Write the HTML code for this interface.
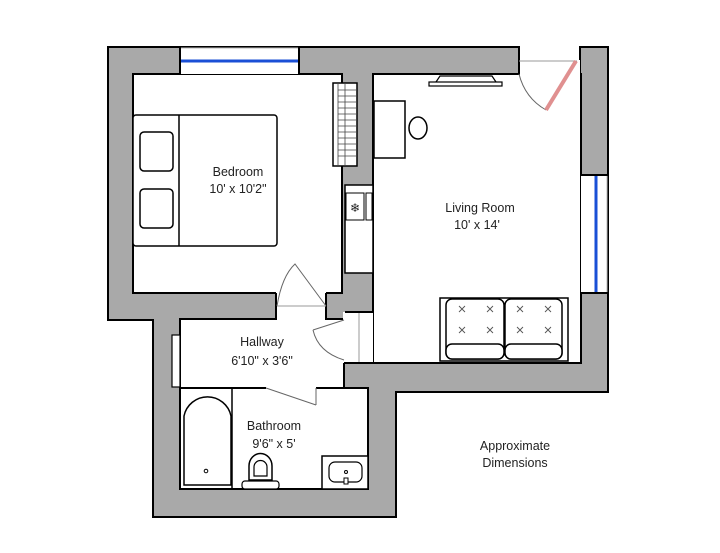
<!DOCTYPE html>
<html><head><style>body{margin:0;background:#fff}svg{display:block}text{font-family:"Liberation Sans",sans-serif;font-size:12.5px;fill:#222;text-anchor:middle}</style></head><body>
<svg width="720" height="553" viewBox="0 0 720 553">
<g stroke="#000" stroke-width="2">
<polygon points="108,47 519,47 519,74 580,74 580,47 608,47 608,392 396,392 396,517 153,517 153,320 108,320" fill="#a9a9a9"/>
<rect x="133" y="74" width="209" height="219" fill="#fff"/>
<rect x="373" y="74" width="208" height="289" fill="#fff"/>
<rect x="180" y="319" width="164" height="69" fill="#fff"/>
<rect x="180" y="388" width="188" height="101" fill="#fff"/>
</g>
<!-- openings -->
<rect x="179" y="48" width="120" height="26" fill="#fff"/>
<line x1="179" y1="48" x2="299" y2="48" stroke="#bbb"/>
<line x1="179" y1="61" x2="299" y2="61" stroke="#1a4fd6" stroke-width="3"/>
<line x1="180" y1="47" x2="180" y2="75" stroke="#000" stroke-width="2"/>
<line x1="299" y1="47" x2="299" y2="75" stroke="#000" stroke-width="2"/>
<rect x="581" y="175" width="26" height="118" fill="#fff"/>
<line x1="607" y1="175" x2="607" y2="293" stroke="#bbb"/>
<line x1="596" y1="175" x2="596" y2="293" stroke="#1a4fd6" stroke-width="3"/>
<line x1="580" y1="175" x2="608" y2="175" stroke="#000" stroke-width="2"/>
<line x1="580" y1="293" x2="608" y2="293" stroke="#000" stroke-width="2"/>
<rect x="520" y="60" width="60" height="16" fill="#fff"/>
<line x1="519" y1="61" x2="577" y2="61" stroke="#999"/>
<path d="M519,74 Q525,98 546,110" fill="none" stroke="#666"/>
<line x1="576" y1="61" x2="546" y2="110" stroke="#e09090" stroke-width="4"/>
<!-- bedroom door -->
<rect x="276" y="292" width="50" height="28" fill="#fff"/>
<line x1="276" y1="293" x2="276" y2="320" stroke="#000" stroke-width="2"/>
<line x1="326" y1="293" x2="326" y2="320" stroke="#000" stroke-width="2"/>
<path d="M277,306 Q282,276 295,264 L326,306" fill="none" stroke="#666"/>
<line x1="277" y1="306" x2="326" y2="306" stroke="#999"/>
<!-- hallway/living opening -->
<rect x="343" y="312" width="30" height="51" fill="#fff"/>
<line x1="345" y1="312" x2="373" y2="312" stroke="#000" stroke-width="2"/>
<line x1="359" y1="313" x2="359" y2="362" stroke="#999"/>
<line x1="344" y1="363" x2="374" y2="363" stroke="#000" stroke-width="2"/>
<line x1="344" y1="320" x2="313" y2="330" stroke="#666"/>
<path d="M313,330 Q318,352 344,360" fill="none" stroke="#666"/>
<!-- bathroom door -->
<rect x="266" y="386" width="50" height="4" fill="#fff"/>
<line x1="266" y1="388" x2="316" y2="405" stroke="#666"/>
<line x1="316" y1="388" x2="316" y2="405" stroke="#666"/>
<!-- closet in wall -->
<rect x="333" y="83" width="24" height="83" fill="#fff" stroke="#000" stroke-width="1.5"/>
<g stroke="#444" stroke-width="0.8">
<line x1="338" y1="83" x2="338" y2="166"/><line x1="345" y1="84" x2="345" y2="165"/>
<line x1="338" y1="90" x2="356" y2="90"/><line x1="338" y1="96" x2="356" y2="96"/><line x1="338" y1="102" x2="356" y2="102"/><line x1="338" y1="108" x2="356" y2="108"/><line x1="338" y1="114" x2="356" y2="114"/><line x1="338" y1="120" x2="356" y2="120"/><line x1="338" y1="126" x2="356" y2="126"/><line x1="338" y1="132" x2="356" y2="132"/><line x1="338" y1="138" x2="356" y2="138"/><line x1="338" y1="144" x2="356" y2="144"/><line x1="338" y1="150" x2="356" y2="150"/><line x1="338" y1="156" x2="356" y2="156"/>
</g>
<!-- kitchen -->
<rect x="345" y="185" width="28" height="88" fill="#fff" stroke="#000" stroke-width="1.5"/>
<rect x="346" y="193" width="18" height="27" fill="#fff" stroke="#000"/>
<rect x="366" y="193" width="6" height="27" fill="#fff" stroke="#000"/>
<text x="355" y="212" style="font-size:12px">❄</text>
<!-- bed -->
<rect x="133" y="115" width="144" height="131" rx="3" fill="#fff" stroke="#000" stroke-width="1.5"/>
<line x1="179" y1="115" x2="179" y2="246" stroke="#000" stroke-width="1.5"/>
<rect x="140" y="132" width="33" height="39" rx="4" fill="none" stroke="#000" stroke-width="1.5"/>
<rect x="140" y="189" width="33" height="39" rx="4" fill="none" stroke="#000" stroke-width="1.5"/>
<!-- desk / chair / tv -->
<rect x="374" y="101" width="31" height="57" fill="#fff" stroke="#000" stroke-width="1.5"/>
<ellipse cx="418" cy="128" rx="9" ry="11" fill="#fff" stroke="#000" stroke-width="1.5"/>
<rect x="429" y="82" width="73" height="4" fill="#fff" stroke="#000" stroke-width="1.2"/>
<path d="M436,82 L440,76 L492,76 L496,82" fill="none" stroke="#000" stroke-width="1.2"/>
<!-- sofa -->
<g fill="#fff" stroke="#000" stroke-width="1.5">
<rect x="440" y="298" width="128" height="63"/>
<rect x="446" y="299" width="58" height="60" rx="6"/>
<rect x="505" y="299" width="57" height="60" rx="6"/>
<rect x="446" y="344" width="58" height="15" rx="6"/>
<rect x="505" y="344" width="57" height="15" rx="6"/>
</g>
<g stroke="#555" stroke-width="0.9">
<path d="M459,306l6,6m0,-6l-6,6M487,306l6,6m0,-6l-6,6M517,306l6,6m0,-6l-6,6M545,306l6,6m0,-6l-6,6M459,327l6,6m0,-6l-6,6M487,327l6,6m0,-6l-6,6M517,327l6,6m0,-6l-6,6M545,327l6,6m0,-6l-6,6"/>
</g>
<!-- hallway closet -->
<rect x="172" y="335" width="8" height="52" fill="#fff" stroke="#000" stroke-width="1.2"/>
<!-- tub -->
<path d="M184,485 L184,416 A24,24 0 0 1 231,416 L231,485 Z" fill="#fff" stroke="#000" stroke-width="1.5"/>
<line x1="180" y1="388" x2="180" y2="489" stroke="#000" stroke-width="2"/>
<line x1="232" y1="388" x2="232" y2="489" stroke="#000" stroke-width="1.5"/>
<circle cx="206" cy="471" r="1.8" fill="none" stroke="#000"/>
<!-- toilet -->
<path d="M249,480 L249,466 A11,12 0 0 1 272,466 L272,480 Z" fill="#fff" stroke="#000" stroke-width="1.5"/>
<path d="M254,476 L254,467 A6,6 0 0 1 267,467 L267,476 Z" fill="none" stroke="#000" stroke-width="1.2"/>
<rect x="242" y="481" width="37" height="8" rx="3" fill="#fff" stroke="#000" stroke-width="1.2"/>
<!-- sink -->
<rect x="322" y="456" width="46" height="33" fill="#fff" stroke="#000" stroke-width="1.5"/>
<rect x="329" y="462" width="33" height="20" rx="6" fill="none" stroke="#000" stroke-width="1.2"/>
<circle cx="346" cy="472" r="1.5" fill="none" stroke="#000"/>
<rect x="344" y="478" width="4" height="6" fill="#fff" stroke="#000"/>
<!-- labels -->
<text x="238" y="176">Bedroom</text><text x="238" y="193">10' x 10'2"</text>
<text x="480" y="212">Living Room</text><text x="477" y="229">10' x 14'</text>
<text x="262" y="346">Hallway</text><text x="262" y="365">6'10" x 3'6"</text>
<text x="274" y="430">Bathroom</text><text x="274" y="448">9'6" x 5'</text>
<text x="515" y="450">Approximate</text><text x="515" y="467">Dimensions</text>
</svg>
</body></html>
